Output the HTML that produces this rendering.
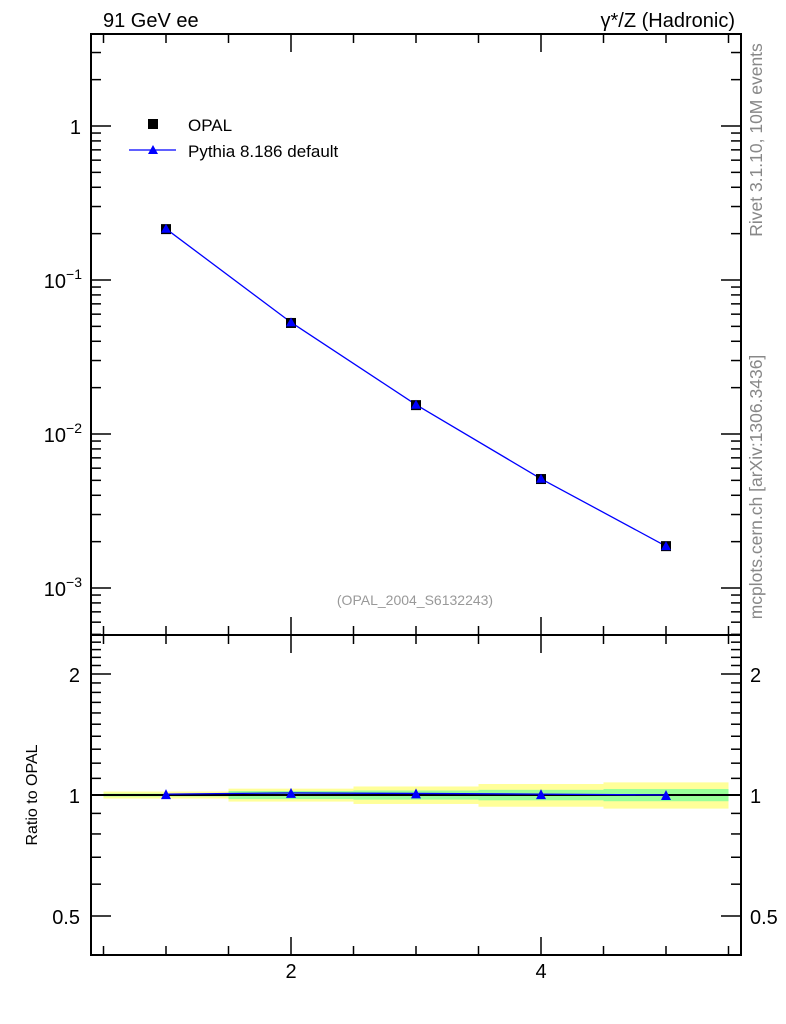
<!DOCTYPE html>
<html><head><meta charset="utf-8"><style>
body{margin:0;background:#fff;}
svg{display:block;font-family:"Liberation Sans",sans-serif;}
</style></head><body>
<svg id="c" width="786" height="1024"></svg>
<script>
const xs=[1,2,3,4,5];
const dataVals=[0.214,0.0526,0.0154,0.0051,0.00187];
const mcVals=[0.215,0.0531,0.0155,0.00512,0.00187];
const mcRatio=[1.005,1.012,1.009,1.005,1.0];
const yellowErr=[0.02,0.037,0.05,0.065,0.075];
const greenErr=[0.008,0.023,0.026,0.03,0.035];
const xTickLabels=[2,4];
const ns="http://www.w3.org/2000/svg";
const svg=document.getElementById('c');
function el(t,a,p){const e=document.createElementNS(ns,t);for(const k in a)e.setAttribute(k,a[k]);(p||svg).appendChild(e);return e;}
const L=91,R=741,T=34,M=635,B=955;
const X=v=>L+(v-0.4)/5.2*(R-L);
const Y=v=>126-Math.log10(v)*154;
const YR=v=>795-Math.log10(v)/Math.log10(2)*121;
xs.forEach((x,i)=>{
 let r=el('rect',{x:X(x-0.5),y:YR(1+yellowErr[i]),width:X(x+0.5)-X(x-0.5),height:YR(1-yellowErr[i])-YR(1+yellowErr[i]),fill:'#ffff99'});
 
 let g=el('rect',{x:X(x-0.5),y:YR(1+greenErr[i]),width:X(x+0.5)-X(x-0.5),height:YR(1-greenErr[i])-YR(1+greenErr[i]),fill:'#99ff99'});
 
});
el('line',{x1:L,x2:R,y1:YR(1),y2:YR(1),stroke:'#000','stroke-width':2});
el('rect',{x:L,y:T,width:R-L,height:M-T,fill:'none',stroke:'#000','stroke-width':2});
el('rect',{x:L,y:M,width:R-L,height:B-M,fill:'none',stroke:'#000','stroke-width':2});
for(let v=0.5;v<=5.5;v+=0.5){const maj=(v%2===0);const l=maj?18:9;
 [[T,1],[M,-1],[M,1],[B,-1]].forEach(([y0,d])=>el('line',{x1:X(v),x2:X(v),y1:y0,y2:y0+d*l,stroke:'#000','stroke-width':1.5}));}
xTickLabels.forEach(v=>{const t=el('text',{x:X(v),y:978,'font-size':20,'text-anchor':'middle'});t.textContent=v;});
for(let e=-4;e<=1;e++)for(let m=1;m<10;m++){const v=m*Math.pow(10,e);const y=Y(v);if(y<T||y>M)continue;const l=m===1?20:10;
 el('line',{x1:L,x2:L+l,y1:y,y2:y,stroke:'#000','stroke-width':1.5});el('line',{x1:R,x2:R-l,y1:y,y2:y,stroke:'#000','stroke-width':1.5});}
[[1,'1',''],[0.1,'10','−1'],[0.01,'10','−2'],[0.001,'10','−3']].forEach(([v,b,s])=>{
 const t=el('text',{x:s?82:81,y:Y(v)+8,'font-size':20,'text-anchor':'end'});t.textContent=b;
 if(s){const u=el('tspan',{'font-size':14,dy:-9},t);u.textContent=s;}
 });
[0.4,0.5,0.6,0.7,0.8,0.9,1,1.1,1.2,1.3,1.4,1.5,1.6,1.7,1.8,1.9,2,2.1,2.2,2.3,2.4,2.5].forEach(v=>{const y=YR(v);if(y<M||y>B)return;const maj=[0.5,1,2].includes(+v.toFixed(1));const l=maj?20:10;
 el('line',{x1:L,x2:L+l,y1:y,y2:y,stroke:'#000','stroke-width':1.5});el('line',{x1:R,x2:R-l,y1:y,y2:y,stroke:'#000','stroke-width':1.5});});
[[2,'2'],[1,'1'],[0.5,'0.5']].forEach(([v,s])=>{
 let t=el('text',{x:80,y:YR(v)+8,'font-size':20,'text-anchor':'end'});t.textContent=s;
 t=el('text',{x:750,y:YR(v)+8,'font-size':20});t.textContent=s;});
el('polyline',{points:xs.map((x,i)=>X(x)+','+Y(mcVals[i])).join(' '),fill:'none',stroke:'#0000ff','stroke-width':1.3});
xs.forEach((x,i)=>{const s=el('rect',{x:X(x)-5,y:Y(dataVals[i])-5,width:10,height:10,fill:'#000'});
 const p=el('polygon',{points:`${X(x)-5},${Y(mcVals[i])+4} ${X(x)+5},${Y(mcVals[i])+4} ${X(x)},${Y(mcVals[i])-5}`,fill:'#0000ff'});});
el('polyline',{points:xs.map((x,i)=>X(x)+','+YR(mcRatio[i])).join(' '),fill:'none',stroke:'#0000ff','stroke-width':1.3});
xs.forEach((x,i)=>{const p=el('polygon',{points:`${X(x)-5},${YR(mcRatio[i])+5} ${X(x)+5},${YR(mcRatio[i])+5} ${X(x)},${YR(mcRatio[i])-5}`,fill:'#0000ff'});});
</script>
<svg width="786" height="1024" style="position:absolute;left:0;top:0;font-family:'Liberation Sans',sans-serif">
<text x="103" y="27" font-size="20">91 GeV ee</text>
<text x="735" y="27" font-size="20" text-anchor="end">γ*/Z (Hadronic)</text>
<rect x="148" y="119" width="10" height="10" fill="#000"/>
<text x="188" y="131" font-size="17">OPAL</text>
<line x1="129" x2="176" y1="150" y2="150" stroke="#0000ff" stroke-width="1.3"/>
<polygon points="148,154 158,154 153,145" fill="#0000ff"/>
<text x="188" y="157" font-size="17">Pythia 8.186 default</text>
<text x="415" y="605" font-size="14" fill="#999" text-anchor="middle">(OPAL_2004_S6132243)</text>
<text transform="translate(762,140) rotate(-90)" font-size="17.5" fill="#888" text-anchor="middle">Rivet 3.1.10,  10M events</text>
<text transform="translate(762,487) rotate(-90)" font-size="17.5" fill="#888" text-anchor="middle">mcplots.cern.ch [arXiv:1306.3436]</text>
<text transform="translate(37,795) rotate(-90)" font-size="16" text-anchor="middle">Ratio to OPAL</text>
</svg>
</body></html>
